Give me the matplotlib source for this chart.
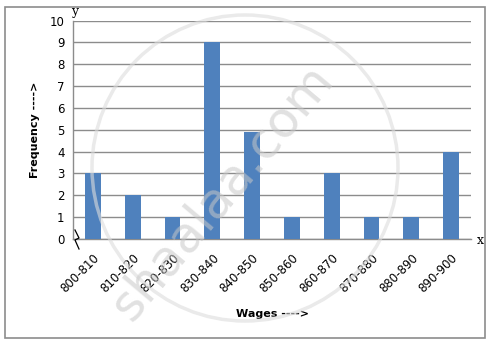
import numpy as np
from matplotlib import pyplot as plt
from matplotlib.patches import Circle, Rectangle

# data
wages = ['800-810', '810-820', '820-830', '830-840', '840-850',
         '850-860', '860-870', '870-880', '880-890', '890-900']
frequency = [3, 2, 1, 9, 4.9, 1, 3, 1, 1, 4]
y_ticks = list(range(0, 11))

W, H = 493, 345
fig = plt.figure(figsize=(W / 100, H / 100), dpi=100)
fig.patch.set_facecolor('white')

# outer frame
fig.patches.append(Rectangle((5 / W, 1 - 338 / H), 480 / W, 331 / H,
                             transform=fig.transFigure, fill=False,
                             edgecolor='#8c8c8c', linewidth=1.2))

ax = fig.add_axes([73 / W, 1 - 239 / H, 398 / W, 218.5 / H])
x = np.arange(len(wages))
ax.bar(x, frequency, width=0.4, color='#4f81bd', zorder=3)
ax.set_xlim(-0.5, len(wages) - 0.5)
ax.set_ylim(0, 10)
ax.set_yticks(y_ticks)
ax.set_yticklabels([str(t) for t in y_ticks], fontsize=8.5)
ax.set_xticks(x)
ax.set_xticklabels(wages, rotation=45, ha='right', rotation_mode='anchor',
                   fontsize=8.5)
ax.tick_params(axis='both', length=0, pad=6)
ax.tick_params(axis='x', pad=9)
ax.grid(axis='y', color='#8c8c8c', linewidth=1.0, zorder=0)
for s in ['top', 'right']:
    ax.spines[s].set_visible(False)
for s in ['left', 'bottom']:
    ax.spines[s].set_color('#8c8c8c')
    ax.spines[s].set_linewidth(1.0)

ax.set_ylabel('Frequency ---->', fontsize=8, fontweight='bold', labelpad=7)
ax.set_xlabel('Wages ---->', fontsize=8, fontweight='bold', labelpad=10)

# axis letters
fig.text(75 / W, 1 - 12 / H, 'y', family='DejaVu Serif', fontsize=9,
         ha='center', va='center')
fig.text(480 / W, 1 - 241 / H, 'x', family='DejaVu Serif', fontsize=9,
         ha='center', va='center')

# break mark at the origin
bx = np.array([75, 79, 75, 79]) / W
by = 1 - np.array([230, 238, 240, 249]) / H
fig.lines.append(plt.Line2D(bx, by, transform=fig.transFigure,
                            color='black', linewidth=0.9))

# watermark
fig.patches.append(Circle((245, H - 168), 153, transform=None, fill=False,
                          edgecolor='#dcdcdc', linewidth=2.5, zorder=10,
                          alpha=0.6))
fig.text(222 / W, 1 - 192 / H, 'shaalaa.com', fontsize=36, rotation=50,
         color='#c8c8c8', alpha=0.55, ha='center', va='center', zorder=10)

plt.savefig('out.png', dpi=100)
